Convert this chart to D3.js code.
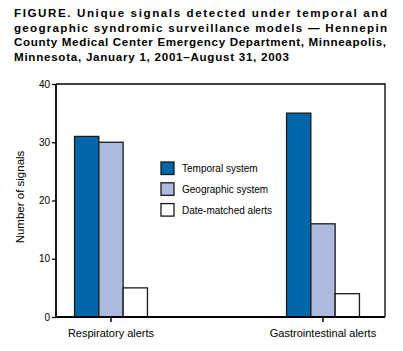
<!DOCTYPE html>
<html>
<head>
<meta charset="UTF-8">
<script src="https://cdn.jsdelivr.net/npm/d3@7"></script>
<style>
  body { margin: 0; background: #fff; }
  svg { display: block; font-family: "Liberation Sans", Arial, sans-serif; }
</style>
</head>
<body>
<script>
  // Data
  const categories = ["Respiratory alerts", "Gastrointestinal alerts"];
  const series = ["Temporal system", "Geographic system", "Date-matched alerts"];
  const temporal = [31, 35];
  const geographic = [30, 16];
  const dateMatched = [5, 4];
  const yTicks = [0, 10, 20, 30, 40];
  const titleLines = [
    "FIGURE. Unique signals detected under temporal and",
    "geographic syndromic surveillance models \u2014 Hennepin",
    "County Medical Center Emergency Department, Minneapolis,",
    "Minnesota, January 1, 2001\u2013August 31, 2003"
  ];

  const colors = ["#0066aa", "#acbadd", "#ffffff"];
  const values = [temporal, geographic, dateMatched];

  const w = 403, h = 351;
  const svg = d3.select("body").append("svg").attr("width", w).attr("height", h);

  // Title
  const titleWidths = [373, 373, 372, 275];
  titleLines.forEach((t, i) => {
    svg.append("text")
      .attr("x", 14)
      .attr("y", 16.8 + i * 14.7)
      .attr("font-size", "11.6px")
      .attr("font-weight", "bold")
      .attr("fill", "#000")
      .attr("textLength", titleWidths[i])
      .attr("lengthAdjust", "spacing")
      .text(t);
  });

  // Plot area
  const pLeft = 56, pRight = 385, pTop = 84, pBottom = 317;

  const groupCenters = [111, 323];
  const barW = 24.3;
  const xPos = d3.scaleOrdinal().domain(categories).range(groupCenters);
  const xSub = d3.scaleBand().domain(series).range([-barW * 1.5, barW * 1.5]);

  const y = d3.scaleLinear().domain([0, 40]).range([pBottom, pTop]);

  // Frame (top and right)
  svg.append("path")
    .attr("d", `M${pLeft},${pTop}H${pRight}V${pBottom}`)
    .attr("fill", "none").attr("stroke", "#000").attr("stroke-width", 1.3);

  // Bars
  categories.forEach((c, ci) => {
    series.forEach((s, si) => {
      const v = values[si][ci];
      svg.append("rect")
        .attr("x", xPos(c) + xSub(s))
        .attr("y", y(v))
        .attr("width", xSub.bandwidth())
        .attr("height", y(0) - y(v))
        .attr("fill", colors[si])
        .attr("stroke", "#1a1a1a")
        .attr("stroke-width", 1.3);
    });
  });

  // Y axis
  const yAxis = d3.axisLeft(y).tickValues(yTicks).tickSize(4).tickPadding(2);
  const gy = svg.append("g").attr("transform", `translate(${pLeft},0)`).call(yAxis);
  gy.select(".domain").attr("stroke-width", 1.8).attr("d", `M0,${pTop}V${pBottom}`);
  gy.selectAll(".tick line").attr("stroke-width", 1.3);
  gy.selectAll(".tick text").attr("font-size", "10px").attr("font-family", "Liberation Sans, Arial, sans-serif").attr("fill", "#000");

  // X axis
  svg.append("line")
    .attr("x1", pLeft).attr("x2", pRight).attr("y1", pBottom).attr("y2", pBottom)
    .attr("stroke", "#000").attr("stroke-width", 1.8);
  categories.forEach(c => {
    svg.append("line")
      .attr("x1", xPos(c)).attr("x2", xPos(c))
      .attr("y1", pBottom).attr("y2", pBottom + 5)
      .attr("stroke", "#000").attr("stroke-width", 1.5);
    svg.append("text")
      .attr("x", xPos(c)).attr("y", 337)
      .attr("text-anchor", "middle")
      .attr("font-size", "11px")
      .text(c);
  });

  // Y axis title
  svg.append("text")
    .attr("transform", "translate(23.5,197) rotate(-90)")
    .attr("text-anchor", "middle")
    .attr("font-size", "11.5px")
    .text("Number of signals");

  // Legend
  const legend = svg.append("g").attr("transform", "translate(161,162)");
  series.forEach((s, i) => {
    legend.append("rect")
      .attr("x", 0).attr("y", i * 20.8)
      .attr("width", 13).attr("height", 12.5)
      .attr("fill", colors[i]).attr("stroke", "#1a1a1a").attr("stroke-width", 1.3);
    legend.append("text")
      .attr("x", 21).attr("y", i * 20.8 + 10)
      .attr("font-size", "10px")
      .text(s);
  });
</script>
</body>
</html>
